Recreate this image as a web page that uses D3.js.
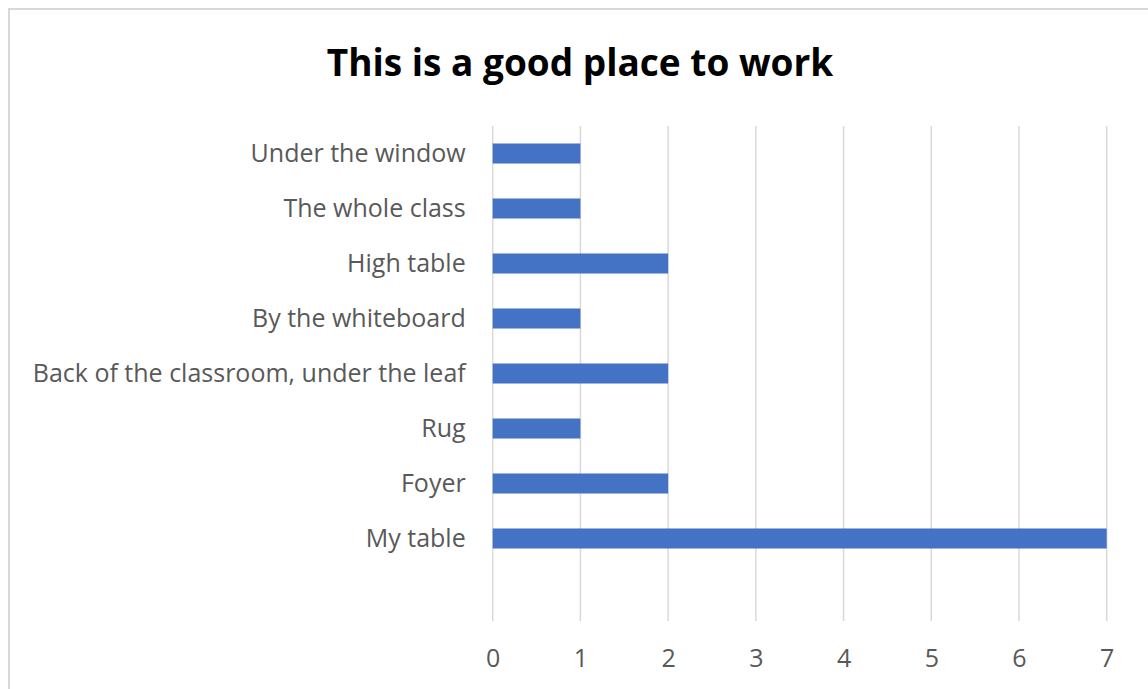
<!DOCTYPE html>
<html>
<head>
<meta charset="utf-8">
<script src="https://cdn.jsdelivr.net/npm/d3@7.9.0/dist/d3.min.js"></script>
<style>
  html, body { margin: 0; padding: 0; background: #fff; }
  svg { display: block; }
</style>
</head>
<body>
<svg width="1148" height="689"></svg>
<script>
// categories top to bottom (Excel leaves a blank row at the bottom)
const categories = [
  'Under the window',
  'The whole class',
  'High table',
  'By the whiteboard',
  'Back of the classroom, under the leaf',
  'Rug',
  'Foyer',
  'My table',
  ''
];
const counts = [1, 1, 2, 1, 2, 1, 2, 7, null];
const xTicks = [0, 1, 2, 3, 4, 5, 6, 7];
const title = 'This is a good place to work';

const svg = d3.select('svg');
const fontFamily = '"Open Sans", Lato, sans-serif';

// chart border
svg.append('rect')
  .attr('x', 9).attr('y', 9)
  .attr('width', 1160).attr('height', 700)
  .attr('fill', '#fff')
  .attr('stroke', '#d9d9d9')
  .attr('stroke-width', 2);

svg.append('text')
  .attr('x', 580).attr('y', 76)
  .attr('text-anchor', 'middle')
  .attr('font-family', fontFamily)
  .attr('font-weight', 'bold')
  .attr('font-size', 37)
  .attr('fill', '#000')
  .text(title);

let x = d3.scaleLinear().domain([0, 7]).range([492.7, 1106.7]);
let y = d3.scaleBand()
  .domain(categories)
  .range([126, 621])
  .paddingInner(0.636)
  .paddingOuter(0.318);

// gridlines
svg.append('g')
  .selectAll('line')
  .data(xTicks)
  .join('line')
  .attr('x1', d => x(d)).attr('x2', d => x(d))
  .attr('y1', 126).attr('y2', 621)
  .attr('stroke', '#d9d9d9')
  .attr('stroke-width', 1.5);

// x axis labels
let xAxis = svg.append('g')
  .attr('transform', 'translate(0,621)')
  .call(d3.axisBottom(x).tickValues(xTicks).tickFormat(d3.format('d')).tickSize(0).tickPadding(28));
xAxis.select('.domain').remove();
xAxis.selectAll('text')
  .attr('font-family', fontFamily)
  .attr('font-size', 25)
  .attr('fill', '#595959');

// y axis labels
let yAxis = svg.append('g')
  .attr('transform', 'translate(492.7,0)')
  .call(d3.axisLeft(y).tickSize(0).tickPadding(27));
yAxis.select('.domain').remove();
yAxis.selectAll('text')
  .attr('font-family', fontFamily)
  .attr('font-size', 25)
  .attr('fill', '#595959');

// bars
let data = categories.map((c, i) => ({ label: c, value: counts[i] }))
  .filter(d => d.value != null);

svg.append('g')
  .selectAll('rect')
  .data(data)
  .join('rect')
  .attr('x', x(0))
  .attr('y', d => y(d.label))
  .attr('width', d => x(d.value) - x(0))
  .attr('height', y.bandwidth())
  .attr('fill', '#4472c4');
</script>
</body>
</html>
